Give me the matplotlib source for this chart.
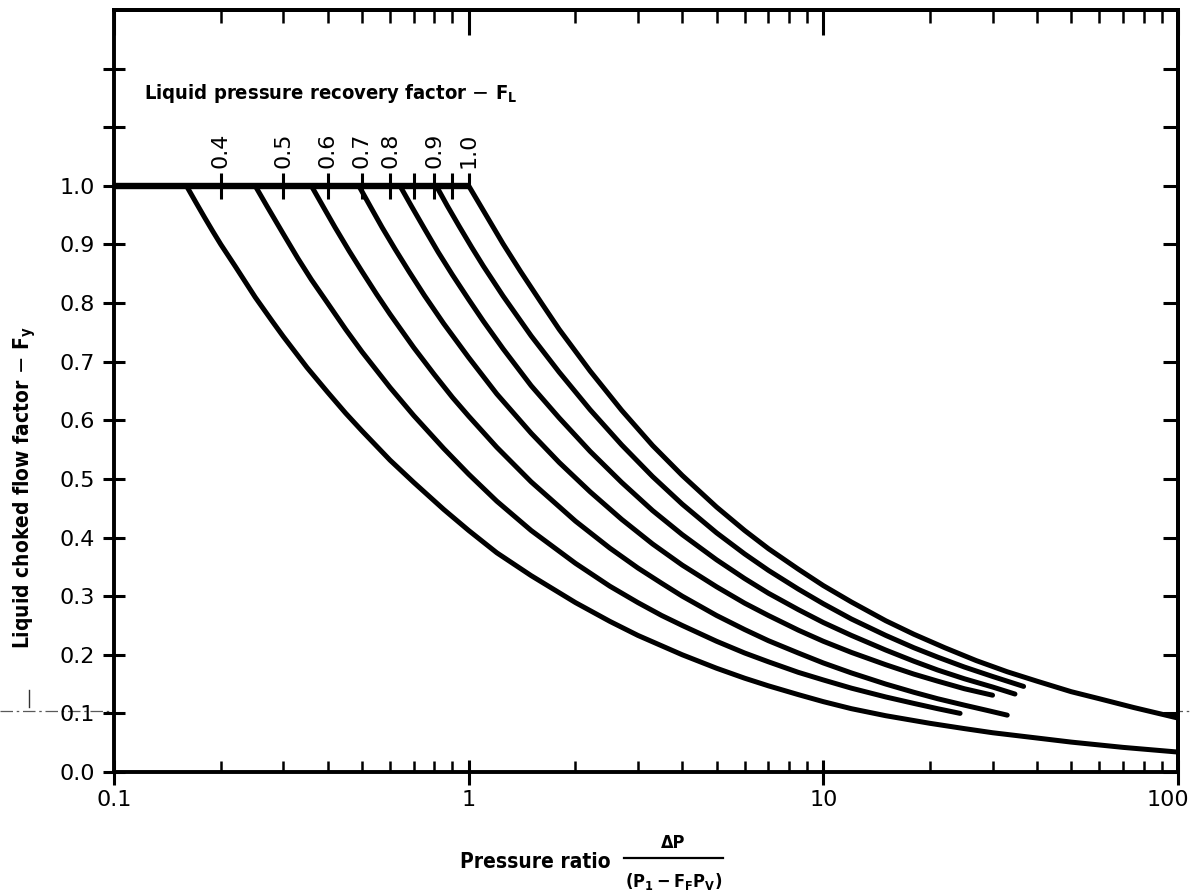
import numpy as np
import matplotlib
matplotlib.use("Agg")
import matplotlib.pyplot as plt
from matplotlib import font_manager as fm
from matplotlib.lines import Line2D
from matplotlib.transforms import ScaledTranslation
from matplotlib.ticker import LogLocator, NullFormatter, FixedLocator

# ---- data: pressure ratio  dP/(P1 - FF*Pv)  vs  liquid choked flow factor Fy ----
fl_labels = ["0.4", "0.5", "0.6", "0.7", "0.8", "0.9", "1.0"]

ratio_040 = [0.16, 0.17, 0.18, 0.19, 0.2, 0.22, 0.25, 0.28, 0.3, 0.35, 0.4, 0.45, 0.5, 0.6, 0.7,
             0.85, 1.0, 1.2, 1.5, 2, 2.5, 3, 4, 5, 6, 7, 8.5, 10, 12, 15, 20, 25, 30, 40, 50, 70, 100]
fy_040 = [1.0, 0.972, 0.946, 0.922, 0.90, 0.862, 0.81, 0.768, 0.743, 0.69, 0.648, 0.612, 0.582,
          0.532, 0.494, 0.448, 0.412, 0.374, 0.335, 0.289, 0.257, 0.233, 0.20, 0.177, 0.160,
          0.147, 0.132, 0.12, 0.108, 0.096, 0.083, 0.074, 0.067, 0.058, 0.051, 0.042, 0.034]

ratio_050 = [0.25, 0.27, 0.3, 0.33, 0.36, 0.4, 0.45, 0.5, 0.6, 0.7, 0.85, 1.0, 1.2, 1.5, 2, 2.5,
             3, 3.5, 4, 5, 6, 7, 8.5, 10, 12, 15, 18, 21, 24.3]
fy_050 = [1.0, 0.965, 0.918, 0.876, 0.84, 0.80, 0.755, 0.717, 0.656, 0.608, 0.552, 0.508, 0.462,
          0.412, 0.356, 0.317, 0.289, 0.267, 0.25, 0.223, 0.203, 0.188, 0.17, 0.157, 0.143,
          0.128, 0.117, 0.108, 0.100]

ratio_060 = [0.36, 0.39, 0.42, 0.46, 0.5, 0.55, 0.6, 0.7, 0.8, 0.9, 1.0, 1.2, 1.5, 2, 2.5, 3,
             3.5, 4, 5, 6, 7, 8.5, 10, 12, 15, 18, 21, 25, 29, 33]
fy_060 = [1.0, 0.963, 0.929, 0.889, 0.854, 0.815, 0.781, 0.724, 0.678, 0.639, 0.607, 0.554,
          0.495, 0.428, 0.382, 0.348, 0.322, 0.30, 0.267, 0.243, 0.224, 0.203, 0.186, 0.169,
          0.150, 0.136, 0.125, 0.114, 0.105, 0.097]

ratio_070 = [0.49, 0.53, 0.57, 0.62, 0.68, 0.75, 0.85, 1.0, 1.2, 1.5, 1.8, 2.2, 2.7, 3.3, 4, 5,
             6, 7, 8.5, 10, 12, 15, 18, 21, 25, 30]
fy_070 = [1.0, 0.963, 0.929, 0.892, 0.853, 0.813, 0.765, 0.707, 0.645, 0.578, 0.528, 0.478,
          0.431, 0.389, 0.353, 0.316, 0.288, 0.267, 0.242, 0.223, 0.204, 0.183, 0.167, 0.155,
          0.142, 0.131]

ratio_080 = [0.64, 0.69, 0.75, 0.82, 0.9, 1.0, 1.1, 1.25, 1.5, 1.8, 2.2, 2.7, 3.3, 4, 5, 6, 7,
             8.5, 10, 12, 15, 18, 21, 25, 30, 34.7]
fy_080 = [1.0, 0.965, 0.927, 0.887, 0.848, 0.806, 0.769, 0.722, 0.659, 0.604, 0.547, 0.494,
          0.446, 0.405, 0.362, 0.33, 0.305, 0.277, 0.255, 0.233, 0.208, 0.189, 0.174, 0.159,
          0.145, 0.133]

ratio_090 = [0.81, 0.87, 0.94, 1.02, 1.1, 1.25, 1.5, 1.8, 2.2, 2.7, 3.3, 4, 5, 6, 7, 8.5, 10,
             12, 15, 18, 21, 25, 30, 36.7]
fy_090 = [1.0, 0.966, 0.931, 0.895, 0.863, 0.812, 0.744, 0.682, 0.618, 0.558, 0.504, 0.457,
          0.408, 0.372, 0.344, 0.312, 0.287, 0.261, 0.233, 0.212, 0.196, 0.179, 0.163, 0.146]

ratio_100 = [1.0, 1.07, 1.15, 1.25, 1.4, 1.6, 1.8, 2.2, 2.7, 3.3, 4, 5, 6, 7, 8.5, 10, 12, 15,
             18, 22, 27, 33, 40, 50, 60, 75, 100]
fy_100 = [1.0, 0.970, 0.938, 0.901, 0.854, 0.801, 0.755, 0.684, 0.617, 0.557, 0.506, 0.452,
          0.412, 0.381, 0.346, 0.318, 0.29, 0.258, 0.235, 0.212, 0.19, 0.171, 0.155, 0.137,
          0.125, 0.11, 0.092]

curves = [(ratio_040, fy_040), (ratio_050, fy_050), (ratio_060, fy_060),
          (ratio_070, fy_070), (ratio_080, fy_080), (ratio_090, fy_090),
          (ratio_100, fy_100)]

# choked plateau Fy = 1.0, its scale marks and the FL labels standing on it
plateau_x = [0.1, 1.0]
plateau_ticks = [0.2, 0.3, 0.4, 0.5, 0.6, 0.7, 0.8, 0.9]
fl_label_x = [0.2, 0.3, 0.4, 0.5, 0.6, 0.8, 1.0]

y_ticks = [0.0, 0.1, 0.2, 0.3, 0.4, 0.5, 0.6, 0.7, 0.8, 0.9, 1.0, 1.1, 1.2]
y_ticklabels = ["0.0", "0.1", "0.2", "0.3", "0.4", "0.5", "0.6", "0.7", "0.8", "0.9", "1.0", "", ""]
x_ticks = [0.1, 1, 10, 100]
x_ticklabels = ["0.1", "1", "10", "100"]

# a narrow face for the titles
_faces = {(f.name, f.stretch) for f in fm.fontManager.ttflist}
_names = {n for n, _ in _faces}
if "Liberation Sans Narrow" in _names:
    NARROW = dict(family="Liberation Sans Narrow")
elif ("DejaVu Sans", "condensed") in _faces:
    NARROW = dict(family="DejaVu Sans", fontstretch="condensed")
elif "Roboto Condensed" in _names:
    NARROW = dict(family="Roboto Condensed")
else:
    NARROW = dict(family="Roboto")

fig = plt.figure(figsize=(11.93, 8.96), dpi=100)
fig.patch.set_facecolor("white")
ax = fig.add_axes([0.0956, 0.1384, 0.8918, 0.8505])
ax.set_xscale("log")
ax.set_xlim(0.1, 100)
ax.set_ylim(0, 1.3)

for side in ax.spines.values():
    side.set_linewidth(2.8)

# curves
for xs, ys in curves:
    ax.plot(xs, ys, color="black", lw=3.6, solid_capstyle="round",
            solid_joinstyle="round", zorder=3)
ax.plot(plateau_x, [1.0, 1.0], color="black", lw=4.6, solid_capstyle="butt", zorder=4)
ax.vlines(plateau_ticks, 0.978, 1.022, color="black", lw=2.2, zorder=4)
ax.vlines([1.0], 1.0, 1.022, color="black", lw=2.2, zorder=4)

for xl, lab in zip(fl_label_x, fl_labels):
    ax.text(xl, 1.03, lab, rotation=90, ha="center", va="bottom",
            fontsize=16, color="black")

ax.text(0.204, 0.891, r"Liquid pressure recovery factor $-$ $\mathregular{F_L}$",
        transform=ax.transAxes, ha="center", va="center", fontsize=14.5,
        fontweight="bold", **NARROW)

# x axis (bottom)
ax.set_xticks(x_ticks)
ax.set_xticklabels(x_ticklabels)
ax.xaxis.set_minor_locator(LogLocator(base=10, subs=np.arange(2, 10)))
ax.xaxis.set_minor_formatter(NullFormatter())
ax.tick_params(axis="x", which="major", direction="inout", length=18, width=2.2,
               pad=4, labelsize=16, top=False)
ax.tick_params(axis="x", which="minor", direction="in", length=8, width=1.8, top=False)
last = ax.get_xticklabels()[-1]
last.set_transform(last.get_transform() + ScaledTranslation(-10 / 100, 0, fig.dpi_scale_trans))

# y axis (left)
ax.set_yticks(y_ticks)
ax.set_yticklabels(y_ticklabels)
ax.tick_params(axis="y", which="major", direction="inout", length=16, width=2.2,
               pad=6, labelsize=16, right=False)

# top and right: inward ticks only
top = ax.secondary_xaxis("top")
top.set_xticks(x_ticks)
top.xaxis.set_minor_locator(LogLocator(base=10, subs=np.arange(2, 10)))
top.xaxis.set_minor_formatter(NullFormatter())
top.tick_params(axis="x", which="major", direction="in", length=18, width=2.2, labeltop=False)
top.tick_params(axis="x", which="minor", direction="in", length=9, width=1.8)
top.spines["top"].set_linewidth(2.8)

right = ax.secondary_yaxis("right")
right.yaxis.set_major_locator(FixedLocator(y_ticks))
right.tick_params(axis="y", which="major", direction="in", length=11, width=2.2, labelright=False)
right.spines["right"].set_linewidth(2.8)

# axis titles
fig.text(25 / 1193, 1 - 488 / 896, r"Liquid choked flow factor $-$ $\mathregular{F_y}$",
         rotation=90, ha="center", va="center", fontsize=15, fontweight="bold", **NARROW)
fig.text(535 / 1193, 1 - 862 / 896, "Pressure ratio", ha="center", va="center",
         fontsize=15, fontweight="bold", **NARROW)
fig.text(673 / 1193, 1 - 843 / 896, "\u0394P", ha="center", va="center",
         fontsize=13, fontweight="bold", **NARROW)
fig.add_artist(Line2D([624 / 1193, 723 / 1193], [1 - 858 / 896, 1 - 858 / 896],
                      transform=fig.transFigure, color="black", lw=1.6))
fig.text(674 / 1193, 1 - 881 / 896, r"$\mathregular{(P_1 - F_F P_V)}$", ha="center",
         va="center", fontsize=13, fontweight="bold", **NARROW)

# faint fold line across the sheet
fig.add_artist(Line2D([0, 1], [1 - 711 / 896, 1 - 711 / 896], transform=fig.transFigure,
                      color="0.35", lw=0.9, ls=(0, (10, 3, 2, 3)), zorder=0))
fig.add_artist(Line2D([29 / 1193, 29 / 1193], [1 - 707 / 896, 1 - 690 / 896],
                      transform=fig.transFigure, color="0.2", lw=1.0))

fig.savefig("out.png", dpi=100, facecolor="white")
